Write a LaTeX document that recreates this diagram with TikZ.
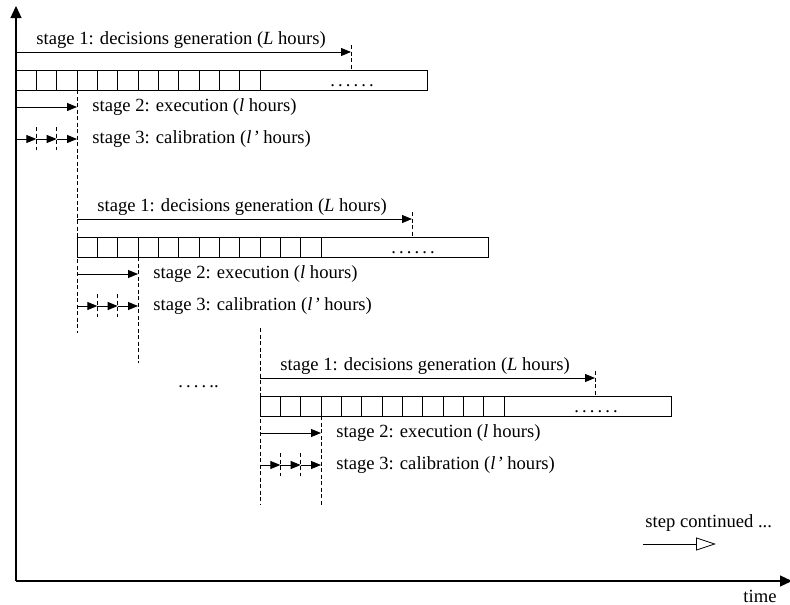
\documentclass[tikz,border=0pt]{standalone}
\usepackage{fontspec}
\setmainfont{Liberation Serif}
\usetikzlibrary{arrows.meta}

\begin{document}
\begin{tikzpicture}[x=1pt, y=-1pt, line width=0.9pt,
  lbl/.style={font=\fontsize{18.6}{22}\selectfont, inner sep=0pt, anchor=west},
  tip/.style={-{Triangle[length=10pt,width=8pt]}},
  guide/.style={dash pattern=on 4pt off 2.5pt, line width=0.8pt},
  axis/.style={line width=1.3pt, -{Triangle[length=12pt,width=11pt]}},
  slotbox/.style={draw, anchor=north west, inner sep=0pt, minimum width=411pt, minimum height=20pt}]

  \useasboundingbox (0,0) rectangle (790,605);

  % time axes
  \coordinate (origin) at (16,581);
  \coordinate (ytop) at (16,6);
  \coordinate (xend) at (792,581);
  \draw[axis] (origin) -- (ytop);
  \draw[axis] (origin) -- (xend);
  \node[lbl, anchor=center] (timelbl) at (760,596) {time};

  % one rolling step: three stages and the slot bar
  \foreach \b/\ox/\oy/\rb in {1/16/52/281, 2/77/219/144, 3/260/378/127}{
    \begin{scope}[shift={(\ox,\oy)}]
      % stage 1
      \coordinate (g\b s) at (0,0);
      \coordinate (g\b e) at (335,0);
      \draw[tip] (g\b s) -- (g\b e);
      \draw[guide] (335,-7) -- (335,18);
      \node[lbl] (g\b t) at (20,-12) {stage 1: decisions generation (\textit{L} hours)};
      % slot bar
      \node[slotbox] (bar\b) at (0,18) {};
      \foreach \k in {1,...,12}{
        \draw (\k*20.333,18) -- (\k*20.333,38);
      }
      \node[lbl, anchor=base west] (dots\b) at (314,34) {.\,.\,.\,.\,.\,.};
      % stage 2
      \coordinate (x\b s) at (0,55);
      \coordinate (x\b e) at (61,55);
      \draw[tip] (x\b s) -- (x\b e);
      \node[lbl] (x\b t) at (76,55) {stage 2: execution (\textit{l} hours)};
      % stage 3
      \coordinate (c\b a) at (0,87);
      \coordinate (c\b b) at (20.333,87);
      \coordinate (c\b c) at (40.667,87);
      \coordinate (c\b d) at (61,87);
      \draw[tip] (c\b a) -- (c\b b);
      \draw[tip] (c\b b) -- (c\b c);
      \draw[tip] (c\b c) -- (c\b d);
      \draw[guide] (20.333,75) -- (20.333,98);
      \draw[guide] (40.667,75) -- (40.667,98);
      \node[lbl] (c\b t) at (76,87) {stage 3: calibration (\textit{l\kern1pt'} hours)};
      % end of the execution window
      \draw[guide] (61,38) -- (61,\rb);
    \end{scope}
  }

  % start of the later step
  \draw[guide] (260,328) -- (260,505);

  % gap between steps
  \node[lbl, anchor=base west] (gap) at (178,387) {.\,.\,.\,.\,..};

  % legend
  \node[lbl] (steplbl) at (645,523) {step continued ...};
  \coordinate (la) at (643,544);
  \coordinate (lb) at (716,544);
  \draw[line width=0.8pt, -{Triangle[open,length=20pt,width=13pt]}] (la) -- (lb);
\end{tikzpicture}
\end{document}
